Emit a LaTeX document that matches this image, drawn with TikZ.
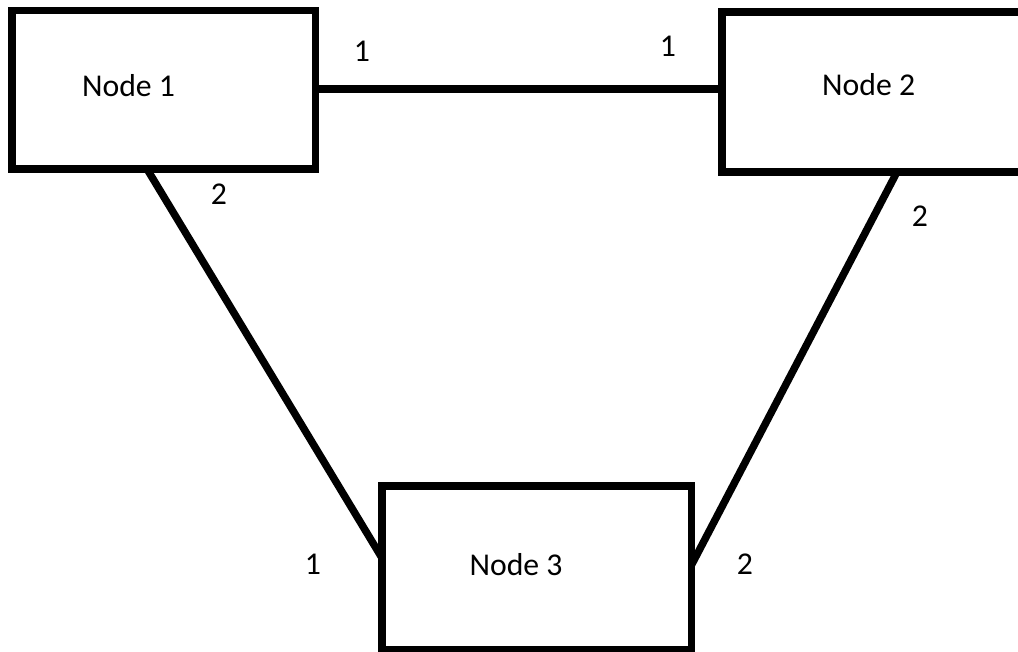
\documentclass[tikz,border=0pt]{standalone}
\usepackage{fontspec}
\setmainfont{Carlito}
\usetikzlibrary{calc}
\begin{document}
\begin{tikzpicture}[x=0.75pt,y=-0.75pt,
  box/.style={draw=black,line width=5.6pt,minimum width=#1,inner sep=0pt,outer sep=0pt},
  txt/.style={font=\fontsize{23.8pt}{28pt}\selectfont,text=black,inner sep=0pt,anchor=base},
  link/.style={draw=black,line width=5.6pt}]
\useasboundingbox (0,0) rectangle (1018,652);
\clip (0,0) rectangle (1018,652);
\node[box=227.6pt,minimum height=118.9pt] (n1) at (163.75,89.75) {};
\node[box=242.25pt,minimum height=120pt] (n2) at (883.5,92) {};
\node[box=232.1pt,minimum height=122.6pt] (n3) at (536.75,567.75) {};
\node[txt] (t1) at (128.5,97) {Node 1};
\node[txt] (t2) at (868.7,95.7) {Node 2};
\node[txt] (t3) at (516,575) {Node 3};
\coordinate (h1) at ($(n1.north east)+(0,78.5)$);
\draw[link] (h1) -- (h1 -| n2.west);
\draw[link] ($(n1.south west)+(135,0)$) -- ($(n3.north west)+(0,72)$);
\draw[link] ($(n2.south west)+(175,0)$) -- ($(n3.north east)+(0,79)$);
\node[txt] (l1) at (362,62) {1};
\node[txt] (l2) at (668,57) {1};
\node[txt] (l3) at (219,205) {2};
\node[txt] (l4) at (920,227) {2};
\node[txt] (l5) at (313,574) {1};
\node[txt] (l6) at (745,574) {2};
\end{tikzpicture}
\end{document}
